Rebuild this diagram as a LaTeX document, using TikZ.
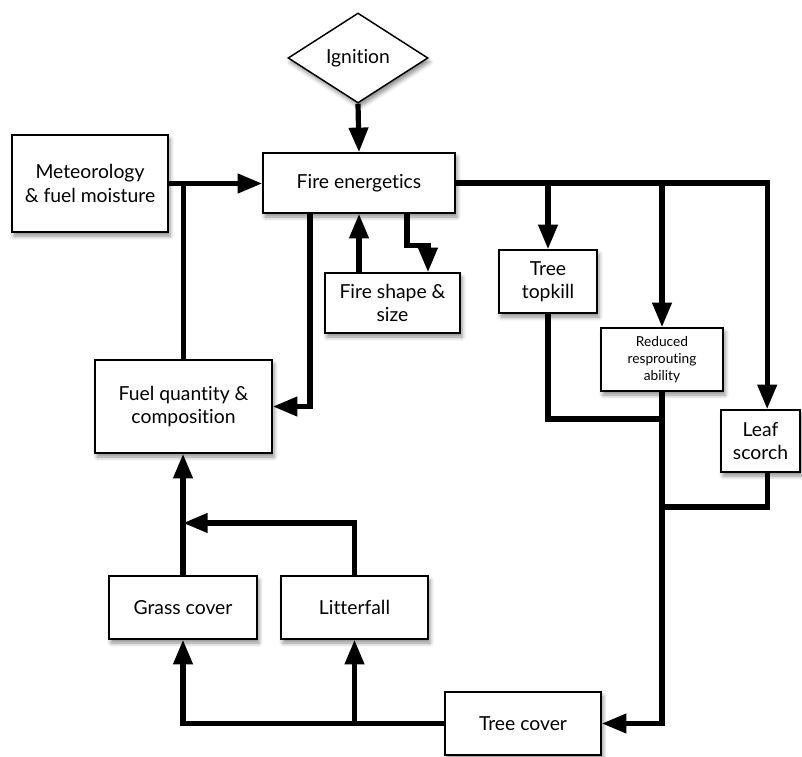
\documentclass[tikz,border=0pt]{standalone}
\usepackage{fontspec}
\setmainfont{Lato}[Ligatures=NoCommon]
\usetikzlibrary{shapes.geometric,arrows.meta,shadows.blur}
\begin{document}
\begin{tikzpicture}[x=0.75pt,y=-0.75pt,
  box/.style={draw, line width=1.1pt, fill=white, align=center, inner sep=0pt,
    font=\fontsize{14.5}{17.5}\selectfont,
    blur shadow={shadow xshift=1.5pt, shadow yshift=-3pt, shadow blur radius=3pt, shadow opacity=45}},
  conn/.style={line width=3.9pt, line join=miter},
  arr/.style={conn, -{Triangle[length=18.5pt,width=14pt]}}]
\useasboundingbox (0,0) rectangle (802,756);

\node[box, shape=diamond, minimum width=105pt, minimum height=67.5pt] (ign) at (358,58) {Ignition};
\node[box, minimum width=144pt, minimum height=45pt] (fe) at (359,183) {Fire energetics};
\node[box, minimum width=117pt, minimum height=72.75pt] (met) at (90,183.5) {Meteorology\\\& fuel moisture};
\node[box, minimum width=101.25pt, minimum height=45pt] (fs) at (392.5,303) {Fire shape \&\\size};
\node[box, minimum width=132.75pt, minimum height=69.75pt] (fuel) at (183.5,406.5) {Fuel quantity \&\\composition};
\node[box, minimum width=73.5pt, minimum height=47.25pt] (tk) at (548,281.5) {Tree\\topkill};
\node[box, minimum width=91.5pt, minimum height=47.25pt, font=\fontsize{10.3}{12.5}\selectfont] (rr) at (662,359.5) {Reduced\\resprouting\\ability};
\node[box, minimum width=59.25pt, minimum height=46.5pt] (ls) at (760.5,441) {Leaf\\scorch};
\node[box, minimum width=111pt, minimum height=47.25pt] (gc) at (183,607.5) {Grass cover};
\node[box, minimum width=110.25pt, minimum height=47.25pt] (lf) at (354.5,607.5) {Litterfall};
\node[box, minimum width=117pt, minimum height=47.25pt] (tc) at (523,723.5) {Tree cover};

\coordinate (j1) at (662,419);
\coordinate (j2) at (662,507);
\coordinate (j3) at (183,523);

\draw[arr] (ign.south) -- (fe.north);
\draw[arr] (met.east) -- (fe.west |- met.east);
\draw[conn] (fuel.north) -- (fuel.north |- met.east);
\draw[arr] ([xshift=-36.75pt]fe.south) |- (fuel.east);
\draw[arr] (fe.south |- fs.north) -- (fe.south);
\draw[arr] ([xshift=36pt]fe.south) -- ++(0,32) -| ([xshift=26.6pt]fs.north);
\draw[arr] (fe.east) -| ([xshift=5pt]ls.north);
\draw[arr] (fe.east -| tk.north) -- (tk.north);
\draw[arr] (fe.east -| rr.north) -- (rr.north);
\draw[conn] (tk.south) |- (j1);
\draw[arr] (rr.south) |- (tc.east);
\draw[conn] ([xshift=5pt]ls.south) |- (j2);
\draw[arr] (tc.west) -| (gc.south);
\draw[arr] (tc.west -| lf.south) -- (lf.south);
\draw[arr] (gc.north) -- (gc.north |- fuel.south);
\draw[arr] (lf.north) |- (j3);
\end{tikzpicture}
\end{document}
